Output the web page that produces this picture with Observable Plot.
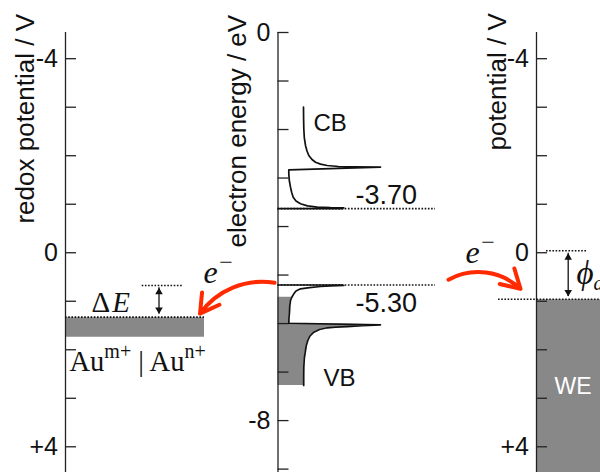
<!DOCTYPE html>
<html><head><meta charset="utf-8">
<script src="https://cdn.jsdelivr.net/npm/d3@7"></script>
<script src="https://cdn.jsdelivr.net/npm/@observablehq/plot@0.6"></script>
<style>html,body{margin:0;padding:0;background:#fff}#chart svg{display:block}</style>
</head><body><div id="chart"></div>
<script>
// ---------------- data ----------------
const E0 = -4.54;                                   // electron energy (eV) at 0 V
const potentialTicks = [-4, -3, -2, -1, 0, 1, 2, 3, 4];
const potentialLabels = [-4, 0, 4];
const energyTicks = [0, -1, -2, -3, -4, -5, -6, -7, -8, -9];
const energyLabels = [0, -8];
const axisTitles = ["redox potential / V", "electron energy / eV", "potential / V"];
const bandLabels = ["CB", "VB"];
const edgeLabels = ["-3.70", "-5.30"];
const cbEdge = -3.63;                               // eV (dotted level)
const vbEdge = -5.205;                              // eV (dotted level)
const auLevel = [1.34, 1.742];                      // V, Au^m+|Au^n+ band
const weLevel = 0.97;                               // V, working electrode
const zeroLevel = -0.04;                            // V, reference dotted level
// conduction-band density-of-states outline (horizontal position, energy eV)
const cbX = [303.0, 303.1, 303.3, 303.8, 305.0, 306.5, 308.3, 311.5, 315.0, 320.0, 326.7, 338.0, 353.3, 380.0,
             288.3, 288.3, 288.8, 290.0, 291.2, 292.7, 295.5, 300.0, 307.0, 316.7, 330.0, 343.3];
const cbE = [-1.540, -1.773, -1.985, -2.165, -2.329, -2.443, -2.536, -2.618, -2.674, -2.713, -2.742, -2.762, -2.771, -2.777,
             -2.830, -2.913, -3.051, -3.189, -3.298, -3.395, -3.474, -3.531, -3.575, -3.601, -3.612, -3.616];
// valence-band density-of-states outline
const vbX = [343.3, 330.0, 320.0, 309.0, 300.0, 295.5, 293.3, 291.2, 290.0, 289.3, 289.0, 288.5, 288.3,
             380.0, 362.0, 346.7, 335.0, 326.7, 319.0, 313.3, 309.5, 307.3, 305.8, 305.0, 303.8, 303.3, 303.2, 303.2];
const vbE = [-5.215, -5.224, -5.236, -5.261, -5.284, -5.329, -5.387, -5.463, -5.525, -5.628, -5.766, -5.875, -5.993,
             -6.026, -6.044, -6.061, -6.073, -6.087, -6.122, -6.178, -6.256, -6.349, -6.452, -6.555, -6.720, -6.900, -7.091, -7.277];
const vbOccupiedTop = {x: 291.3, e: -5.457};

// ---------------- layout / style ----------------
const W = 600, H = 472;
const YMIN = -4.54, YMAX = 4.53;
const AX_L = 65, AX_M = 277.5, AX_R = 536, TICK = 11;
const INK = "#111", GRAY = "#888", RED = "#ff2a00";
const SANS = "'Liberation Sans', Arial, Helvetica, sans-serif";
const SERIF = "'Liberation Serif', 'Times New Roman', serif";
const pE = e => E0 - e;                              // energy (eV) -> potential (V)
const signed = v => v > 0 ? "+" + v : String(v);

const cb = cbX.map((x, i) => ({x, e: cbE[i]}));
const vb = vbX.map((x, i) => ({x, e: vbE[i]}));
const vbFill = [vbOccupiedTop, ...vb.filter(d => d.e < vbOccupiedTop.e)];

const dotted = [
  {y: pE(cbEdge), x1: AX_M, x2: 435},
  {y: pE(vbEdge), x1: AX_M, x2: 435},
  {y: pE(vbEdge) + 0.01, x1: 141.7, x2: 183.3},
  {y: auLevel[0] - 0.012, x1: AX_L, x2: 204},
  {y: zeroLevel, x1: 546, x2: 587},
  {y: weLevel - 0.012, x1: 498, x2: 600}
];
const doubleArrows = [
  {x: 158.5, y1: 0.724, y2: 1.262},
  {x: 567.7, y1: 0.010, y2: 0.903}
];

// rich (serif) labels
const richDefs = [];
function rich(segs, opts) {
  const plain = segs.map(s => s.t).join("");
  richDefs.push({plain, segs, opts});
  return Plot.text([plain], {x: opts.x, y: opts.y, text: d => d, textAnchor: opts.anchor || "start",
    lineAnchor: "bottom", fontFamily: SERIF, fontSize: opts.size, fill: INK});
}

const marks = [
  // filled regions
  Plot.rect([auLevel], {x1: AX_L, x2: 204, y1: d => d[0], y2: d => d[1], fill: GRAY}),
  Plot.rect([weLevel], {x1: AX_R, x2: W, y1: d => d, y2: YMAX, fill: GRAY}),
  Plot.areaX(vbFill, {x1: AX_M, x2: "x", y: d => pE(d.e), fill: GRAY}),
  // axis lines and inward ticks
  Plot.ruleX([AX_L, AX_M, AX_R], {stroke: "#222", strokeWidth: 1.3}),
  Plot.ruleY(potentialTicks, {y: d => d, x1: AX_L, x2: AX_L + TICK, stroke: "#222", strokeWidth: 1.3}),
  Plot.ruleY(energyTicks, {y: pE, x1: AX_M, x2: AX_M + TICK, stroke: "#222", strokeWidth: 1.3}),
  Plot.ruleY(potentialTicks, {y: d => d, x1: AX_R, x2: AX_R + TICK, stroke: "#222", strokeWidth: 1.3}),
  // tick labels
  Plot.axisY({anchor: "left", dx: AX_L, ticks: potentialLabels, tickFormat: signed, tickSize: 0, tickPadding: 7.5, label: null}),
  Plot.axisY({anchor: "left", dx: AX_M, ticks: energyLabels.map(pE), tickFormat: p => String(Math.round(E0 - p) || 0), tickSize: 0, tickPadding: 7.5, label: null}),
  Plot.axisY({anchor: "left", dx: AX_R, ticks: potentialLabels, tickFormat: signed, tickSize: 0, tickPadding: 7.5, label: null}),
  // axis titles
  Plot.text([axisTitles[0]], {x: 33, y: -0.602, text: d => d, rotate: -90, textAnchor: "start", lineAnchor: "bottom", fontSize: 26, fill: INK}),
  Plot.text([axisTitles[1]], {x: 245.5, y: -0.107, text: d => d, rotate: -90, textAnchor: "start", lineAnchor: "bottom", fontSize: 26, fill: INK}),
  Plot.text([axisTitles[2]], {x: 505, y: -2.107, text: d => d, rotate: -90, textAnchor: "start", lineAnchor: "bottom", fontSize: 26, fill: INK}),
  // dotted levels
  Plot.ruleY(dotted, {y: "y", x1: "x1", x2: "x2", stroke: INK, strokeWidth: 1.6, strokeDasharray: "1.6,1.6"}),
  // band edges and DOS curves
  Plot.ruleY([cbEdge, vbEdge], {y: pE, x1: AX_M, x2: 343.3, stroke: INK, strokeWidth: 1.6}),
  Plot.line(cb, {x: "x", y: d => pE(d.e), stroke: INK, strokeWidth: 1.7}),
  Plot.line(vb, {x: "x", y: d => pE(d.e), stroke: INK, strokeWidth: 1.7}),
  // double-headed arrows
  Plot.ruleX(doubleArrows, {x: "x", y1: "y1", y2: "y2", stroke: INK, strokeWidth: 1.3}),
  Plot.dot(doubleArrows, {x: "x", y: "y1", symbol: "triangle", r: 2.8, fill: INK, dy: 4.3}),
  Plot.dot(doubleArrows, {x: "x", y: "y2", symbol: "triangle", r: 2.8, fill: INK, rotate: 180, dy: -4.3}),
  // red electron-transfer arrows
  Plot.arrow([{x1: 274, y1: 0.62, x2: 199.5, y2: 1.255}], {x1: "x1", y1: "y1", x2: "x2", y2: "y2", bend: -32, stroke: RED, strokeWidth: 4, headLength: 8}),
  Plot.arrow([{x1: 448, y1: 0.555, x2: 520, y2: 0.745}], {x1: "x1", y1: "y1", x2: "x2", y2: "y2", bend: 36, stroke: RED, strokeWidth: 4, headLength: 8}),
  // sans labels
  Plot.text([bandLabels[0]], {x: 313, y: -2.519, text: d => d, textAnchor: "start", lineAnchor: "bottom", fontSize: 24, fill: INK}),
  Plot.text([bandLabels[1]], {x: 323, y: 2.738, text: d => d, textAnchor: "start", lineAnchor: "bottom", fontSize: 24, fill: INK}),
  Plot.text([edgeLabels[0]], {x: 355, y: -1.008, text: d => d, textAnchor: "start", lineAnchor: "bottom", fontSize: 27, fill: INK}),
  Plot.text([edgeLabels[1]], {x: 355, y: 1.227, text: d => d, textAnchor: "start", lineAnchor: "bottom", fontSize: 27, fill: INK}),
  Plot.text(["WE"], {x: 572.5, y: 2.909, text: d => d, textAnchor: "middle", lineAnchor: "bottom", fontSize: 23, fill: "#fff"}),
  // serif labels
  rich([{t: "Au"}, {t: "m+", sup: 1}, {t: " | Au"}, {t: "n+", sup: 1}], {x: 69, y: 2.428, size: 28.5, small: 20, raise: 13}),
  rich([{t: "Δ"}, {t: "E", it: 1, dx: 2}], {x: 91, y: 1.225, size: 29}),
  rich([{t: "e", it: 1}, {t: "−", sup: 1, dx: 1.5}], {x: 203, y: 0.614, size: 32, small: 24, raise: 13}),
  rich([{t: "e", it: 1}, {t: "−", sup: 1, dx: 1.5}], {x: 465, y: 0.202, size: 32, small: 24, raise: 13}),
  rich([{t: "ϕ", it: 1}, {t: "a", sub: 1, it: 1}], {x: 576, y: 0.64, size: 33, small: 20, drop: 6})
];

const chart = Plot.plot({
  width: W, height: H,
  marginTop: 32, marginBottom: 0, marginLeft: 0, marginRight: 0,
  x: {domain: [0, W], range: [0, W], axis: null},
  y: {domain: [YMIN, YMAX], range: [32, H]},
  style: {fontFamily: SANS, fontSize: "25px", background: "#fff", color: INK, overflow: "visible"},
  marks
});

// turn plain serif labels into rich text with super/subscripts
for (const def of richDefs) {
  d3.select(chart).selectAll("text").filter(function () { return this.textContent === def.plain; }).each(function () {
    const sel = d3.select(this).text(null);
    let shift = 0;
    for (const s of def.segs) {
      const target = s.sup ? -(def.opts.raise || 0) : s.sub ? (def.opts.drop || 0) : 0;
      const ts = sel.append("tspan").text(s.t);
      if (target !== shift) { ts.attr("dy", target - shift); shift = target; }
      if (s.dx) ts.attr("dx", s.dx);
      if (s.sup || s.sub) ts.attr("font-size", def.opts.small);
      if (s.it) ts.attr("font-style", "italic");
    }
  });
}
document.getElementById("chart").appendChild(chart);
</script>
</body></html>
